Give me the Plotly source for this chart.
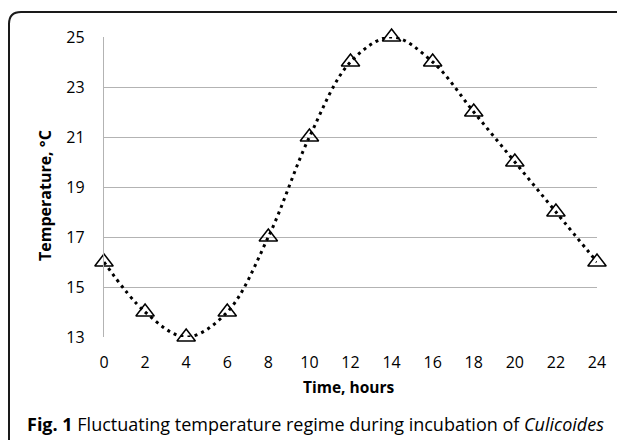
import plotly.graph_objects as go

hours = [0, 2, 4, 6, 8, 10, 12, 14, 16, 18, 20, 22, 24]
temperature = [16, 14, 13, 14, 17, 21, 24, 25, 24, 22, 20, 18, 16]
y_ticks = [13, 15, 17, 19, 21, 23, 25]

W, H = 625, 440
OFF = 8  # page body margin offset
# plot area in page pixels
L, R, T, B = 104, 597, 37, 337

def px(x):
    return (x - L) / (R - L)

def py(y):
    return (B - y) / (B - T)

fig = go.Figure()
fig.add_trace(go.Scatter(
    x=hours, y=temperature, mode="lines",
    line=dict(shape="spline", smoothing=1.0, color="black", width=3, dash="3px,4.2px"),
    hoverinfo="skip", showlegend=False, cliponaxis=False))
fig.add_trace(go.Scatter(
    x=hours, y=temperature, mode="markers", cliponaxis=False,
    marker=dict(symbol="triangle-up-open", size=16, color="black", line=dict(width=1.5, color="black")),
    showlegend=False))

# rounded figure border (top and left edges)
r = 12
path = (f"M {px(9)},{py(460)} L {px(9)},{py(12 + r)} "
        f"Q {px(9)},{py(12)} {px(9 + r)},{py(12)} L {px(640)},{py(12)}")
fig.add_shape(type="path", xref="paper", yref="paper", path=path,
              line=dict(color="#1a1a1a", width=2))

fig.add_annotation(xref="paper", yref="paper", x=px(45), y=py(196),
                   xanchor="center", yanchor="middle",
                   text="<b>Temperature, °C</b>", textangle=-90, showarrow=False,
                   font=dict(family="Open Sans", size=16, color="black"))
fig.add_annotation(xref="paper", yref="paper", x=px(349), y=py(387),
                   xanchor="center", yanchor="middle",
                   text="<b>Time, hours</b>", showarrow=False,
                   font=dict(family="Open Sans", size=15.5, color="black"))
fig.add_annotation(xref="paper", yref="paper", x=px(25), y=py(424),
                   xanchor="left", yanchor="middle",
                   text="<b>Fig. 1</b> Fluctuating temperature regime during incubation of <i>Culicoides</i>",
                   showarrow=False,
                   font=dict(family="Open Sans", size=18, color="black"))

fig.update_layout(
    width=W, height=H,
    margin=dict(l=L - OFF, r=W - (R - OFF), t=T - OFF, b=H - (B - OFF), pad=0),
    paper_bgcolor="white", plot_bgcolor="white",
    font=dict(family="Open Sans", size=16, color="black"),
    xaxis=dict(range=[0, 24], tickvals=hours, ticktext=[str(h) for h in hours],
               showgrid=False, zeroline=False, showline=False, ticks="", ticklen=0,
               tickfont=dict(size=16), fixedrange=True, ticklabelstandoff=14),
    yaxis=dict(range=[13, 25], tickvals=y_ticks, showgrid=True, gridcolor="#b3b3b3",
               gridwidth=1.3, zeroline=False, showline=True, linecolor="#b3b3b3",
               linewidth=1.3, ticks="", tickfont=dict(size=16), fixedrange=True,
               ticklabelstandoff=15),
)
fig.write_html("out.html")
